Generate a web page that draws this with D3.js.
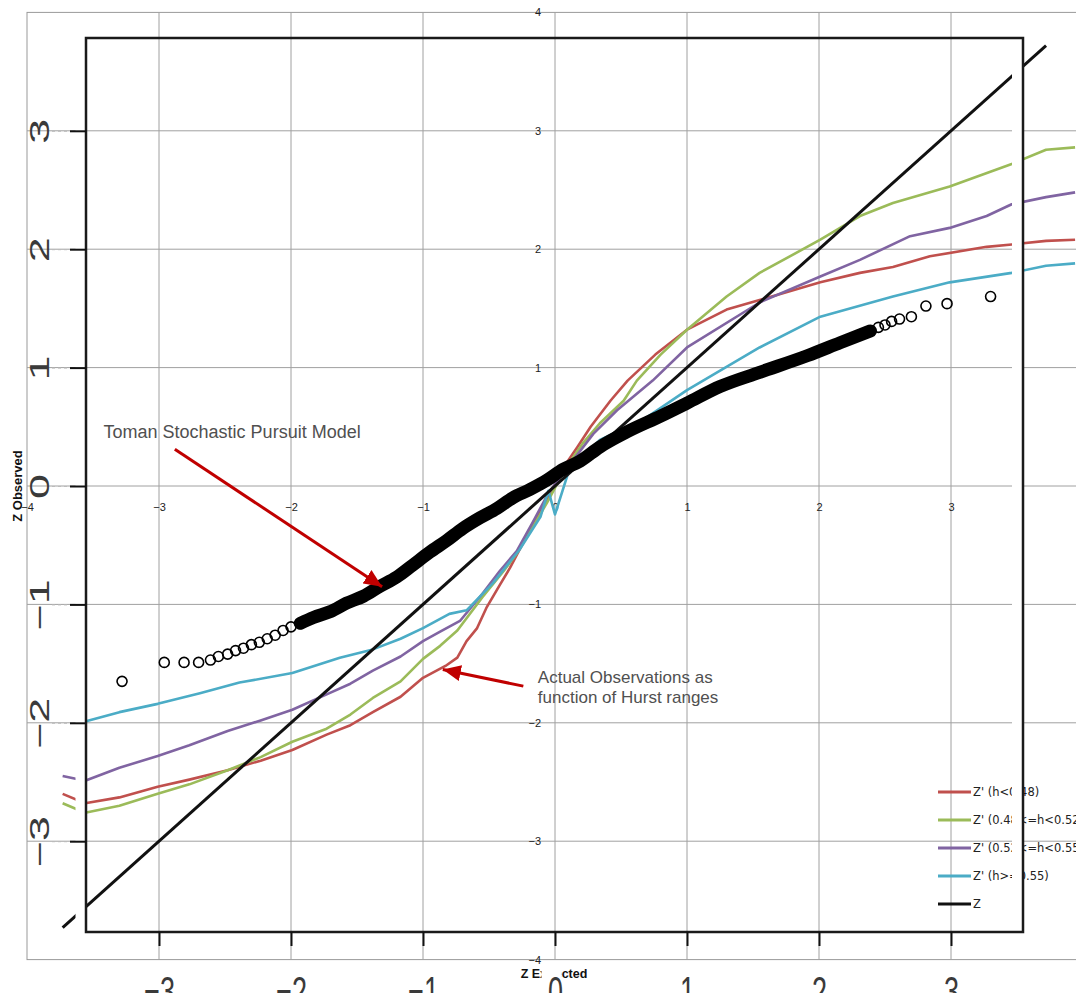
<!DOCTYPE html>
<html>
<head>
<meta charset="utf-8">
<script src="https://cdn.jsdelivr.net/npm/d3@7/dist/d3.min.js"></script>
<style>
body{margin:0;background:#fff;}
svg{display:block;}
</style>
</head>
<body>
<svg id="chart" width="1076" height="993"></svg>
<script>
// values (expected z, observed z)
var gridTicks = [-3,-2,-1,0,1,2,3];
var innerTicks = [-4,-3,-2,-1,0,1,2,3,4];

var zLine = [[-3.73,-3.73],[3.72,3.72]];

var hLow = [[-3.73,-2.60],[-3.56,-2.68],[-3.30,-2.63],[-3.01,-2.54],[-2.77,-2.48],[-2.48,-2.40],
	[-2.23,-2.32],[-1.99,-2.23],[-1.73,-2.10],[-1.55,-2.02],[-1.38,-1.91],[-1.17,-1.78],[-1.00,-1.62],
	[-0.83,-1.52],[-0.74,-1.45],[-0.67,-1.31],[-0.59,-1.20],[-0.52,-1.03],[-0.42,-0.84],[-0.34,-0.69],
	[-0.19,-0.37],[-0.06,-0.12],[0.06,0.15],[0.17,0.33],[0.27,0.50],[0.42,0.72],[0.55,0.89],[0.76,1.11],
	[1.00,1.32],[1.30,1.49],[1.55,1.57],[2.01,1.72],[2.31,1.80],[2.56,1.85],[2.84,1.94],[3.27,2.02],
	[3.46,2.04],[3.72,2.07],[3.94,2.08]];

var hMidLow = [[-3.73,-2.68],[-3.56,-2.76],[-3.30,-2.70],[-3.01,-2.60],[-2.77,-2.52],[-2.48,-2.40],
	[-2.23,-2.29],[-1.99,-2.16],[-1.73,-2.05],[-1.55,-1.93],[-1.38,-1.79],[-1.17,-1.65],[-1.00,-1.46],
	[-0.87,-1.35],[-0.74,-1.22],[-0.55,-0.94],[-0.39,-0.72],[-0.29,-0.57],[-0.17,-0.35],[-0.06,-0.14],
	[0.08,0.15],[0.21,0.36],[0.34,0.53],[0.52,0.72],[0.62,0.89],[0.80,1.11],[1.00,1.32],[1.30,1.60],
	[1.55,1.80],[2.01,2.08],[2.31,2.28],[2.56,2.39],[2.99,2.53],[3.46,2.72],[3.72,2.84],[3.94,2.86]];

var hMidHigh = [[-3.73,-2.45],[-3.56,-2.49],[-3.30,-2.38],[-3.01,-2.28],[-2.77,-2.19],[-2.48,-2.07],
	[-2.23,-1.98],[-1.99,-1.89],[-1.73,-1.76],[-1.55,-1.67],[-1.38,-1.56],[-1.17,-1.44],[-1.00,-1.31],
	[-0.87,-1.23],[-0.72,-1.14],[-0.55,-0.91],[-0.42,-0.72],[-0.29,-0.55],[-0.17,-0.31],[-0.05,-0.06],
	[0.09,0.15],[0.29,0.44],[0.47,0.64],[0.74,0.89],[1.00,1.17],[1.55,1.55],[2.01,1.77],[2.31,1.91],
	[2.69,2.11],[2.99,2.18],[3.27,2.28],[3.46,2.38],[3.72,2.44],[3.94,2.48]];

var hHigh = [[-3.56,-1.99],[-3.30,-1.91],[-3.01,-1.84],[-2.69,-1.75],[-2.39,-1.66],[-1.99,-1.58],
	[-1.63,-1.45],[-1.38,-1.38],[-1.17,-1.29],[-1.00,-1.20],[-0.80,-1.08],[-0.67,-1.05],[-0.47,-0.82],
	[-0.27,-0.54],[-0.11,-0.26],[-0.05,-0.04],[0.00,-0.24],[0.10,0.11],[0.34,0.39],[0.67,0.56],
	[1.00,0.81],[1.55,1.17],[2.01,1.43],[2.56,1.60],[2.99,1.72],[3.46,1.80],[3.72,1.86],[3.94,1.88]];

// Toman model points: sparse tails and the dense middle band
var tomanLow = [[-3.28,-1.65],[-2.96,-1.49],[-2.81,-1.49],[-2.70,-1.49],[-2.61,-1.47],[-2.55,-1.44],
	[-2.48,-1.42],[-2.42,-1.39],[-2.36,-1.37],[-2.30,-1.34],[-2.24,-1.32],[-2.18,-1.29],[-2.12,-1.26],
	[-2.06,-1.22],[-2.00,-1.19]];
var tomanBand = [[-1.93,-1.16],[-1.83,-1.11],[-1.70,-1.06],[-1.58,-0.99],[-1.45,-0.93],[-1.33,-0.85],
	[-1.20,-0.77],[-1.08,-0.67],[-0.95,-0.56],[-0.82,-0.46],[-0.70,-0.36],[-0.57,-0.27],[-0.44,-0.19],
	[-0.32,-0.10],[-0.19,-0.03],[-0.06,0.05],[0.06,0.14],[0.19,0.21],[0.34,0.33],[0.55,0.46],
	[0.80,0.59],[1.00,0.70],[1.25,0.84],[1.55,0.96],[1.91,1.10],[2.16,1.21],[2.39,1.31]];
var tomanHigh = [[2.45,1.34],[2.50,1.36],[2.55,1.39],[2.61,1.41],[2.70,1.43],[2.81,1.52],[2.97,1.54],[3.30,1.60]];

var legendLabels = ["Z' (h<0.48)","Z' (0.48<=h<0.52)","Z' (0.52<=h<0.55)","Z' (h>=0.55)","Z"];
var legendColors = ["#c0504d","#9bbb59","#8064a2","#4bacc6","#111111"];

// annotation arrows and texts, in chart units
var arrows = [[[-2.88,0.31],[-1.31,-0.85]],[[-0.24,-1.69],[-0.85,-1.55]]];
var notes = [
	{text:"Toman Stochastic Pursuit Model", x:-3.42, y:0.405, size:18},
	{text:"Actual Observations as", x:-0.13, y:-1.66, size:17},
	{text:"function of Hurst ranges", x:-0.13, y:-1.83, size:17}
];

var frame = {left:86, right:1023, top:38, bottom:932};

var svg = d3.select("#chart");
var x = d3.scaleLinear().domain([-4,4]).range([27,1083]);
var y = d3.scaleLinear().domain([-4,4]).range([959.6,12.4]);

var defs = svg.append("defs");
defs.append("marker").attr("id","head").attr("markerUnits","userSpaceOnUse")
	.attr("markerWidth",20).attr("markerHeight",16).attr("refX",18).attr("refY",8)
	.attr("orient","auto")
	.append("path").attr("d","M0,0 L18,8 L0,16 Z").attr("fill","#c00000");

function draw_grid(){
	svg.append("rect").attr("x",x(-4)).attr("y",y(4))
		.attr("width",x(4)-x(-4)).attr("height",y(-4)-y(4))
		.attr("fill","none").attr("stroke","#999").attr("stroke-width",1);
	svg.append("g").selectAll("line").data(gridTicks).enter().append("line")
		.attr("x1",function(d){return x(d);}).attr("x2",function(d){return x(d);})
		.attr("y1",y(4)).attr("y2",y(-4))
		.attr("stroke","#a0a0a0").attr("stroke-width",1);
	svg.append("g").selectAll("line").data(gridTicks).enter().append("line")
		.attr("y1",function(d){return y(d);}).attr("y2",function(d){return y(d);})
		.attr("x1",x(-4)).attr("x2",1076)
		.attr("stroke","#a0a0a0").attr("stroke-width",1);
}

function draw_inner_axes(){
	var gx = svg.append("g").attr("transform","translate(0,"+y(0)+")")
		.call(d3.axisBottom(x).tickValues(innerTicks).tickSize(0).tickPadding(17).tickFormat(d3.format("d")));
	var gy = svg.append("g").attr("transform","translate("+x(0)+",0)")
		.call(d3.axisLeft(y).tickValues(innerTicks.filter(function(d){return d!==0;}))
			.tickSize(0).tickPadding(14).tickFormat(d3.format("d")));
	[gx,gy].forEach(function(g){
		g.select(".domain").remove();
		g.attr("font-family","Liberation Sans, Arial, sans-serif").attr("font-size",11);
		g.selectAll("text").attr("fill","#222");
	});
}

function draw_curves(){
	var line = d3.line().x(function(d){return x(d[0]);}).y(function(d){return y(d[1]);});
	var series = [hLow,hMidLow,hMidHigh,hHigh];
	series.forEach(function(s,i){
		svg.append("path").attr("d",line(s)).attr("fill","none")
			.attr("stroke",legendColors[i]).attr("stroke-width",2.6)
			.attr("stroke-linejoin","round");
	});
	svg.append("path").attr("d",line(zLine)).attr("fill","none")
		.attr("stroke","#111").attr("stroke-width",3);

	// dense band of overlapping circles
	svg.append("path").attr("d",line.curve(d3.curveMonotoneX)(tomanBand)).attr("fill","none")
		.attr("stroke","#000").attr("stroke-width",13).attr("stroke-linecap","round");
	var pts = tomanLow.concat(tomanBand).concat(tomanHigh);
	svg.append("g").selectAll("circle").data(pts).enter().append("circle")
		.attr("cx",function(d){return x(d[0]);}).attr("cy",function(d){return y(d[1]);})
		.attr("r",5).attr("fill","none").attr("stroke","#000").attr("stroke-width",1.6);
}

function draw_legend(){
	var lg = svg.append("g").attr("font-family","DejaVu Sans, sans-serif").attr("font-size",11.5);
	var item = lg.selectAll("g").data(legendLabels).enter().append("g")
		.attr("transform",function(d,i){return "translate(938,"+(792+i*28)+")";});
	item.append("line").attr("x1",0).attr("x2",33)
		.attr("stroke",function(d,i){return legendColors[i];}).attr("stroke-width",3);
	item.append("text").attr("x",35).attr("dy","0.35em").attr("fill","#222")
		.text(function(d){return d;});
}

function draw_frame(){
	// white strips where the two pictures were pasted together
	svg.append("rect").attr("x",75.5).attr("y",frame.top).attr("width",frame.left-75.5)
		.attr("height",frame.bottom-frame.top).attr("fill","#fff");
	svg.append("rect").attr("x",1012).attr("y",frame.top).attr("width",frame.right-1012)
		.attr("height",frame.bottom-frame.top).attr("fill","#fff");
	svg.append("rect").attr("x",frame.left).attr("y",frame.top)
		.attr("width",frame.right-frame.left).attr("height",frame.bottom-frame.top)
		.attr("fill","none").attr("stroke","#1a1a1a").attr("stroke-width",2.5);
}

function draw_outer_axes(){
	var gl = svg.append("g").attr("transform","translate("+frame.left+",0)")
		.call(d3.axisLeft(y).tickValues(gridTicks).tickSize(16).tickFormat(d3.format("d")));
	var gb = svg.append("g").attr("transform","translate(0,"+frame.bottom+")")
		.call(d3.axisBottom(x).tickValues(gridTicks).tickSize(14).tickFormat(d3.format("d")));
	[gl,gb].forEach(function(g){
		g.select(".domain").remove();
		g.attr("font-family","Liberation Sans, Arial, sans-serif");
		g.selectAll(".tick line").attr("stroke","#111").attr("stroke-width",2);
		g.selectAll("text").attr("fill","#3a3a3a");
	});
	gl.attr("font-size",28);
	gb.attr("font-size",27);
	gl.selectAll(".tick").insert("line","text").attr("x1",-34).attr("x2",-18)
		.attr("stroke","#bbb").attr("stroke-dasharray","3,3");
	// the pasted picture is stretched vertically, so the big labels are too
	gl.selectAll("text").attr("x",null).attr("dy","0.36em").attr("text-anchor","middle")
		.attr("transform","translate(-47,0) rotate(-90) scale(1.6,1)");
	gb.selectAll("text").attr("y",null).attr("dy","0.71em")
		.attr("transform","translate(0,43) scale(1,1.6)");
	// "0" label hides part of the small axis title
	gb.selectAll(".tick").filter(function(d){return d===0;})
		.insert("rect","text").attr("x",-14).attr("y",38).attr("width",20).attr("height",30).attr("fill","#fff");
}

function draw_titles(){
	svg.append("text").attr("x",x(0)-1).attr("y",978).attr("text-anchor","middle")
		.attr("font-family","Liberation Sans, Arial, sans-serif").attr("font-weight","bold")
		.attr("font-size",12.5).attr("fill","#111").text("Z Expected");
	svg.append("text").attr("transform","translate(22,"+y(0)+") rotate(-90)").attr("text-anchor","middle")
		.attr("font-family","Liberation Sans, Arial, sans-serif").attr("font-weight","bold")
		.attr("font-size",13).attr("fill","#111").text("Z Observed");
}

function draw_notes(){
	svg.append("g").selectAll("line").data(arrows).enter().append("line")
		.attr("x1",function(d){return x(d[0][0]);}).attr("y1",function(d){return y(d[0][1]);})
		.attr("x2",function(d){return x(d[1][0]);}).attr("y2",function(d){return y(d[1][1]);})
		.attr("stroke","#c00000").attr("stroke-width",3).attr("marker-end","url(#head)");
	svg.append("g").selectAll("text").data(notes).enter().append("text")
		.attr("x",function(d){return x(d.x);}).attr("y",function(d){return y(d.y);})
		.attr("font-family","Liberation Sans, Arial, sans-serif")
		.attr("font-size",function(d){return d.size;}).attr("fill","#505050")
		.text(function(d){return d.text;});
}

draw_grid();
draw_inner_axes();
draw_curves();
draw_legend();
draw_frame();
draw_titles();
draw_outer_axes();
draw_notes();
</script>
</body>
</html>
